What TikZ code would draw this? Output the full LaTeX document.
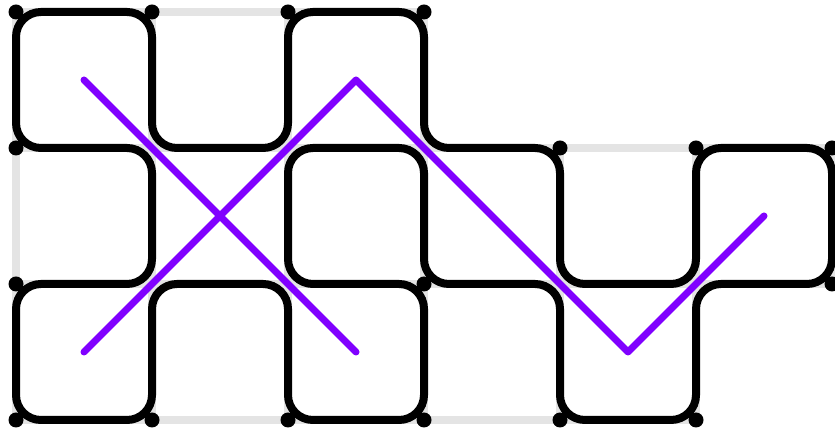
\documentclass[tikz,border=0pt]{standalone}
\usepackage{tikz}
\definecolor{routeviolet}{HTML}{8000FF}
\definecolor{cellgray}{HTML}{E4E4E4}

\begin{document}
\begin{tikzpicture}[
    x=1.36cm, y=1.36cm,
    cell/.style={draw=cellgray, line width=0.08cm},
    loop/.style={draw=black, line width=0.08cm, rounded corners=0.25cm},
    route/.style={draw=routeviolet, line width=0.07cm, line cap=round, line join=round},
    pin/.style={fill=black},
  ]
    \useasboundingbox (-0.16cm,-0.11cm) rectangle (8.19cm,4.20cm);
    % cells of the region
    \foreach \cx/\cy in {0/2,1/2,2/2, 0/1,1/1,2/1,3/1,4/1,5/1, 0/0,1/0,2/0,3/0,4/0}
      \draw[cell] (\cx,\cy) rectangle +(1,1);
    % closed loop along the cell edges
    \draw[loop] (0.5,3) -- (0,3) -- (0,2) -- (1,2) -- (1,1) -- (0,1) -- (0,0) -- (1,0)
      -- (1,1) -- (2,1) -- (2,0) -- (3,0) -- (3,1) -- (2,1) -- (2,2) -- (3,2) -- (3,1)
      -- (4,1) -- (4,0) -- (5,0) -- (5,1) -- (6,1) -- (6,2) -- (5,2) -- (5,1) -- (4,1)
      -- (4,2) -- (3,2) -- (3,3) -- (2,3) -- (2,2) -- (1,2) -- (1,3) -- cycle;
    % cell centres
    \coordinate (c00) at (0.5,2.5);
    \coordinate (c20) at (2.5,2.5);
    \coordinate (c51) at (5.5,1.5);
    \coordinate (c02) at (0.5,0.5);
    \coordinate (c22) at (2.5,0.5);
    \coordinate (c42) at (4.5,0.5);
    \draw[route] (c00) -- (c22);
    \draw[route] (c02) -- (c20) -- (c42) -- (c51);
    % corner pins
    \foreach \px/\py in {0/3,1/3,2/3,3/3, 0/2,4/2,5/2,6/2, 0/1,3/1,6/1, 0/0,1/0,2/0,3/0,4/0,5/0}
      \fill[pin] (\px,\py) circle (0.075cm);
\end{tikzpicture}
\end{document}
